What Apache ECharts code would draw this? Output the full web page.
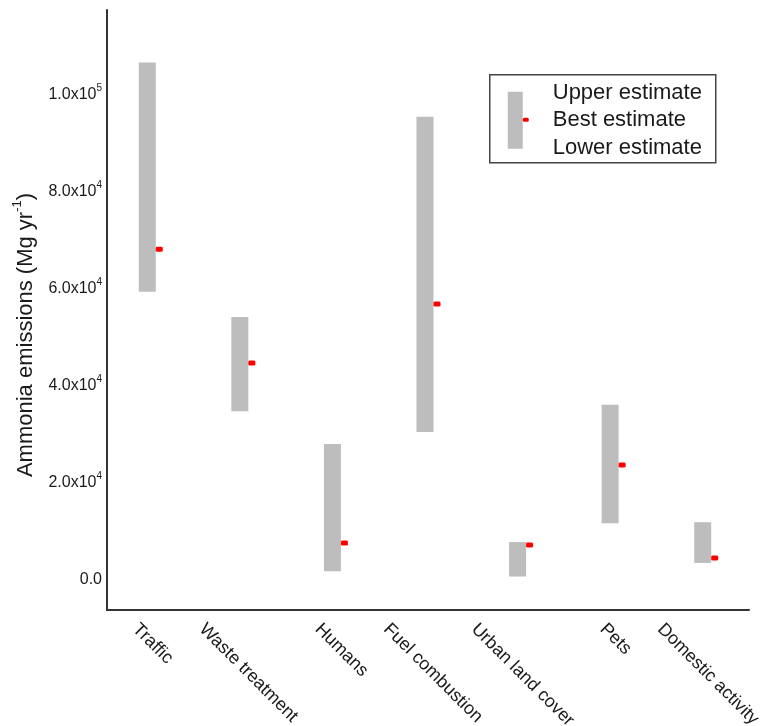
<!DOCTYPE html>
<html>
<head>
<meta charset="utf-8">
<script src="https://cdn.jsdelivr.net/npm/echarts@6/dist/echarts.min.js"></script>
<style>
html,body{margin:0;padding:0;background:#fff;}
#chart{width:762px;height:726px;}
</style>
</head>
<body>
<div id="chart"></div>
<script>
// ---- data ----
const categories = ['Traffic', 'Waste treatment', 'Humans', 'Fuel combustion', 'Urban land cover', 'Pets', 'Domestic activity'];
const lowerEstimate = [59000, 34400, 1400, 30100, 300, 11300, 3100];
const upperEstimate = [106300, 53800, 27600, 95100, 7400, 35700, 11500];
const bestEstimate = [67800, 44300, 7200, 56500, 6800, 23300, 4100];
const yTicks = [0, 20000, 40000, 60000, 80000, 100000];
const legendLabels = ['Upper estimate', 'Best estimate', 'Lower estimate'];
const yAxisTitle = 'Ammonia emissions (Mg yr';
const yAxisTitleSup = '-1';

// label placement nudges (in category units), as set in the original figure
const labelNudge = [-0.06, -0.34, -0.09, -0.35, -0.40, -0.01, -0.39];

// ---- build ----
const catIndex = categories.map((c, i) => i);
const rangeData = catIndex.map(i => [i, lowerEstimate[i], upperEstimate[i]]);
const bestData = catIndex.map(i => [i, bestEstimate[i]]);
const labelPositions = catIndex.map(i => i + labelNudge[i]);

function fmtTick(v) {
  if (v === 0) return '{m|0.0}';
  const e = Math.floor(Math.log10(v));
  const m = (v / Math.pow(10, e)).toFixed(1);
  return '{m|' + m + 'x10}{e|' + e + '}';
}

const chart = echarts.init(document.getElementById('chart'), null, {renderer: 'canvas'});
const FONT = '"Liberation Sans", Arial, sans-serif';
const TXT = '#1a1a1a';

chart.setOption({
  animation: false,
  backgroundColor: '#ffffff',
  grid: {left: 107, right: 13, top: 10, bottom: 116, containLabel: false, outerBoundsMode: 'none'},
  xAxis: {
    type: 'value',
    min: -0.435,
    max: 6.5,
    axisLine: {show: true, onZero: false, lineStyle: {color: '#333', width: 2}},
    axisTick: {show: false},
    splitLine: {show: false},
    axisLabel: {
      customValues: labelPositions,
      formatter: v => categories[Math.round(v)],
      rotate: -45,
      margin: 10,
      verticalAlign: 'top',
      fontFamily: FONT,
      fontSize: 18,
      color: TXT
    }
  },
  yAxis: {
    type: 'value',
    min: -6600,
    max: 117100,
    axisLine: {show: true, onZero: false, lineStyle: {color: '#333', width: 2}},
    axisTick: {show: false},
    splitLine: {show: false},
    axisLabel: {
      customValues: yTicks,
      margin: 5,
      formatter: fmtTick,
      rich: {
        m: {fontFamily: FONT, fontSize: 16, color: TXT, verticalAlign: 'bottom', lineHeight: 19},
        e: {fontFamily: FONT, fontSize: 10, color: TXT, verticalAlign: 'top', lineHeight: 10}
      }
    },
    name: '{t|' + yAxisTitle + '}{s|' + yAxisTitleSup + '}{t|)}',
    nameLocation: 'middle',
    nameRotate: 90,
    nameGap: 70,
    nameTextStyle: {
      padding: [0, 50, 0, 0],
      rich: {
        t: {fontFamily: FONT, fontSize: 22, color: TXT, verticalAlign: 'bottom', lineHeight: 26},
        s: {fontFamily: FONT, fontSize: 13, color: TXT, verticalAlign: 'top', lineHeight: 13}
      }
    }
  },
  series: [
    {
      name: 'Range',
      type: 'custom',
      data: rangeData,
      encode: {x: 0, y: [1, 2]},
      renderItem: function (params, api) {
        const x = api.value(0);
        const lo = api.coord([x, api.value(1)]);
        const hi = api.coord([x, api.value(2)]);
        const w = 17;
        return {
          type: 'rect',
          shape: {x: lo[0] - w / 2, y: hi[1], width: w, height: lo[1] - hi[1]},
          style: {fill: '#bdbdbd'}
        };
      },
      z: 2
    },
    {
      name: 'Best estimate',
      type: 'scatter',
      data: bestData,
      symbol: 'roundRect',
      symbolSize: [7, 5],
      symbolOffset: [12, 0],
      itemStyle: {color: '#ff0000', opacity: 1},
      z: 3
    }
  ],
  graphic: [
    {
      type: 'group',
      left: 489,
      top: 74,
      children: [
        {type: 'rect', shape: {x: 0, y: 0, width: 226, height: 88}, style: {fill: '#fff', stroke: '#444', lineWidth: 1.5}},
        {type: 'rect', shape: {x: 18, y: 17, width: 15, height: 57}, style: {fill: '#bdbdbd'}},
        {type: 'rect', shape: {x: 33, y: 43, width: 6, height: 4, r: 1.5}, style: {fill: '#ff0000'}},
        {type: 'text', x: 63, y: 18, style: {text: legendLabels[0], font: '22px ' + FONT, fill: TXT, verticalAlign: 'middle'}},
        {type: 'text', x: 63, y: 45, style: {text: legendLabels[1], font: '22px ' + FONT, fill: TXT, verticalAlign: 'middle'}},
        {type: 'text', x: 63, y: 73, style: {text: legendLabels[2], font: '22px ' + FONT, fill: TXT, verticalAlign: 'middle'}}
      ]
    }
  ]
});
</script>
</body>
</html>
